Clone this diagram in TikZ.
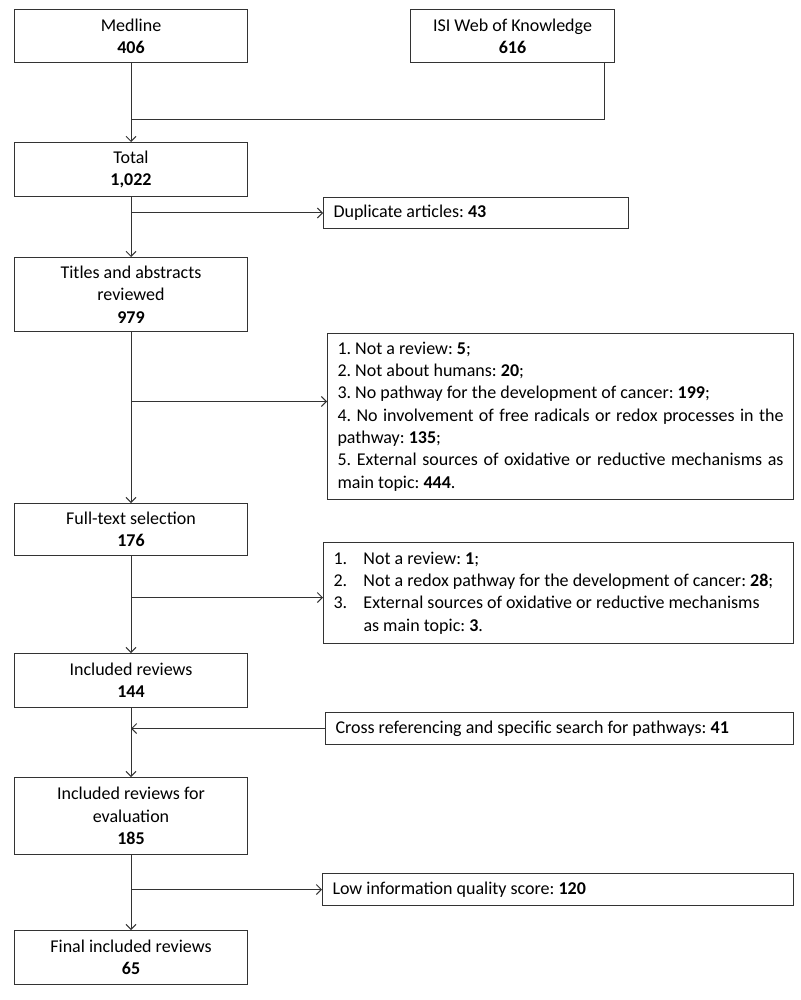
\documentclass[tikz,border=0pt]{standalone}
\usepackage{fontspec}
\setmainfont{Carlito}
\usetikzlibrary{arrows.meta}
\setlength{\parindent}{0pt}
\tolerance=9999
\frenchspacing
\tikzset{
  stage/.style={draw=black!80,line width=1pt,anchor=north west,align=flush center,
    minimum width=233pt,inner sep=2pt,font=\fontsize{18}{22.3}\selectfont},
  excl/.style={draw=black!80,line width=1pt,anchor=north west,align=justify,
    inner xsep=10pt,inner ysep=3pt,font=\fontsize{18}{22.3}\selectfont},
  note/.style={excl,align=flush left},
  flow/.style={draw=black!80,line width=1pt,-{Straight Barb[length=5pt,width=10pt]}},
  link/.style={draw=black!80,line width=1pt}
}

\begin{document}
\begin{tikzpicture}[x=1pt,y=-1pt]
    \useasboundingbox (0,0) rectangle (800,1000);

    \node[stage,minimum height=53pt] (medline) at (14,9) {Medline\\\textbf{406}};
    \node[stage,minimum width=204pt,minimum height=53pt] (isi) at (410,9) {ISI Web of Knowledge\\\textbf{616}};
    \node[stage,minimum height=54pt] (total) at (14,142) {Total\\\textbf{1,022}};
    \node[note,text width=285pt,minimum height=31pt] (dup) at (323,197) {Duplicate articles: \textbf{43}};
    \node[stage,minimum height=74pt] (titles) at (14,257) {Titles and abstracts\\reviewed\\\textbf{979}};
    \node[excl,text width=446pt,minimum height=166pt] (reasons1) at (327,333) {%
      1. Not a review: \textbf{5};\par
      2. Not about humans: \textbf{20};\par
      3. No pathway for the development of cancer: \textbf{199};\par
      4. No involvement of free radicals or redox processes in the\linebreak pathway: \textbf{135};\par
      5. External sources of oxidative or reductive mechanisms as\linebreak main topic: \textbf{444}.};
    \node[stage,minimum height=52pt] (fulltext) at (14,503) {Full-text selection\\\textbf{176}};
    \node[excl,text width=450pt,minimum height=101pt] (reasons2) at (323,542) {%
      \makebox[30pt][l]{1.}Not a review: \textbf{1};\par
      \makebox[30pt][l]{2.}Not a redox pathway for the development of cancer: \textbf{28};\par
      \makebox[30pt][l]{3.}External sources of oxidative or reductive mechanisms\newline
      \hspace*{30pt}as main topic: \textbf{3}.};
    \node[stage,minimum height=54pt] (included) at (14,653) {Included reviews\\\textbf{144}};
    \node[note,text width=448pt,minimum height=32pt] (crossref) at (325,712) {Cross referencing and specific search for pathways: \textbf{41}};
    \node[stage,minimum height=77pt] (evaluation) at (14,777) {Included reviews for\\evaluation\\\textbf{185}};
    \node[note,text width=451pt,minimum height=32pt] (lowscore) at (322,873) {Low information quality score: \textbf{120}};
    \node[stage,minimum height=54pt] (final) at (14,930) {Final included reviews\\\textbf{65}};

    \coordinate (join) at (medline.south |- 0,120);
    \draw[link] ([xshift=-11pt]isi.south east) |- (join);
    \draw[flow] (medline.south) -- (total.north);
    \draw[flow] (total.south) -- (titles.north);
    \draw[flow] (dup.west -| total.south) -- (dup.west);
    \draw[flow] (titles.south) -- (fulltext.north);
    \draw[flow] ([yshift=15pt]reasons1.west -| titles.south) -- ([yshift=15pt]reasons1.west);
    \draw[flow] (fulltext.south) -- (included.north);
    \draw[flow] ([yshift=-4.5pt]reasons2.west -| fulltext.south) -- ([yshift=-4.5pt]reasons2.west);
    \draw[flow] (included.south) -- (evaluation.north);
    \draw[flow] (crossref.west) -- (crossref.west -| included.south);
    \draw[flow] (evaluation.south) -- (final.north);
    \draw[flow] (lowscore.west -| evaluation.south) -- (lowscore.west);
\end{tikzpicture}
\end{document}
